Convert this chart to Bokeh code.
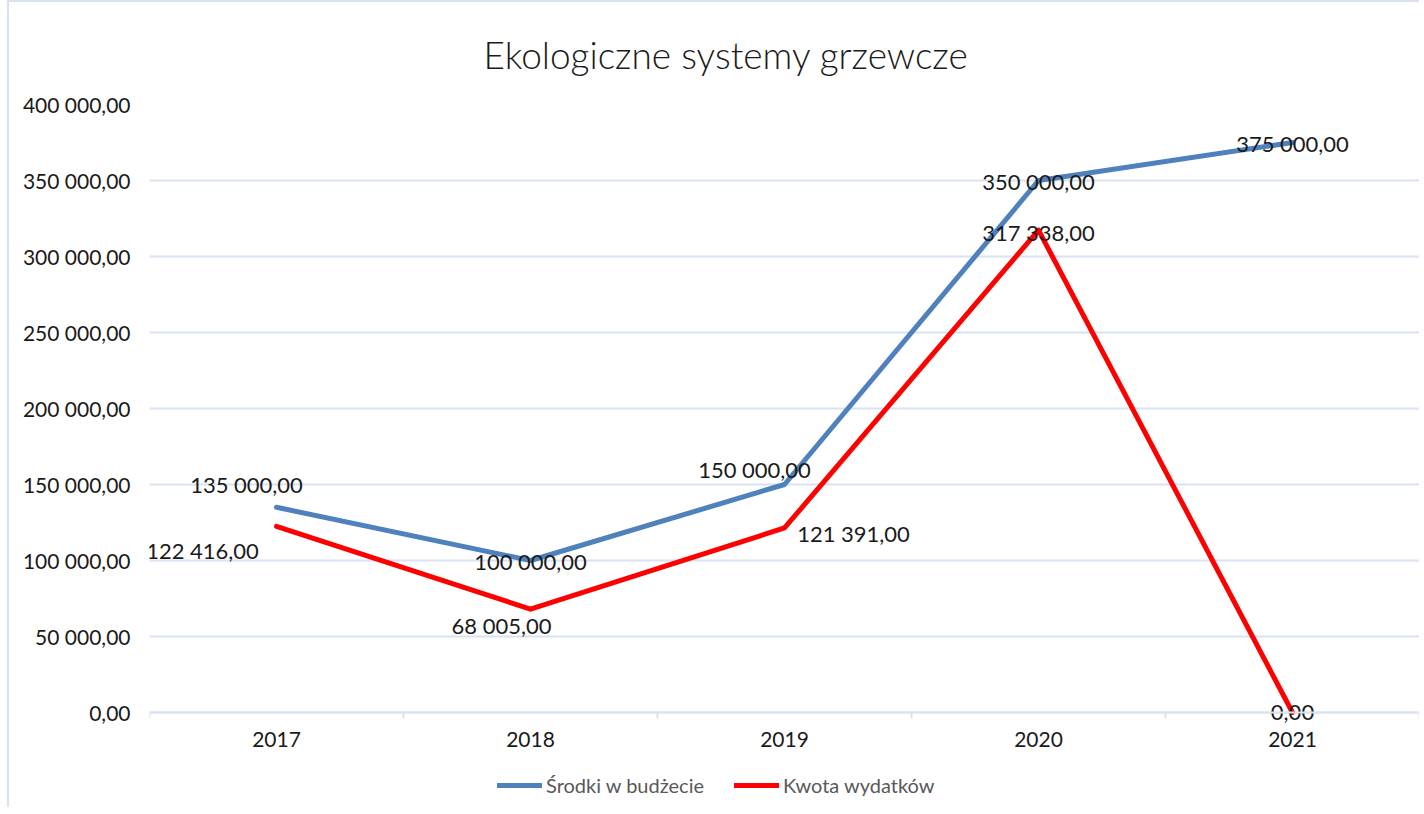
from bokeh.plotting import figure
from bokeh.models import FixedTicker, Legend, LegendItem, ColumnDataSource
from bokeh.core.properties import value
from bokeh.embed import file_html
from bokeh.resources import INLINE

# ---- data ----
years = ["2017", "2018", "2019", "2020", "2021"]
budget = [135000, 100000, 150000, 350000, 375000]   # Środki w budżecie
spent = [122416, 68005, 121391, 317338, 0]          # Kwota wydatków
y_ticks = [0, 50000, 100000, 150000, 200000, 250000, 300000, 350000, 400000]
series_names = ["Środki w budżecie", "Kwota wydatków"]

# ---- label placement (screen px, down = positive) ----
budget_dx = [-30, 0, -30, 0, 0]
budget_dy = [-23, 1, -15, 1, 1]
spent_dx = [-74, -29, 69, 0, 0]
spent_dy = [24, 16, 6, 2, 0]

FONT = "Lato"
GRID = "#D9E2F3"
BLUE = "#4F81BD"
RED = "#FF0000"
TXT = "#1a1a1a"

Y_MAX = y_ticks[-1]
FIG_W, FIG_H = 1412, 807
TOP, BOTTOM, LEFT, RIGHT = 102, 10, 140, 2
ZERO_PX = 608                      # px between 0 and Y_MAX
frame_h = FIG_H - TOP - BOTTOM
y_lo = -(frame_h - ZERO_PX) * Y_MAX / ZERO_PX   # room under the axis for labels/legend


def fmt(v):
    s = f"{v:,.2f}"
    return s.replace(",", " ").replace(".", ",")


xs = list(range(len(years)))

p = figure(
    width=FIG_W, height=FIG_H,
    x_range=(-0.5, len(years) - 0.5), y_range=(y_lo, Y_MAX),
    output_backend="svg", toolbar_location=None,
    min_border_left=LEFT, min_border_right=RIGHT, min_border_top=TOP, min_border_bottom=BOTTOM,
    title="Ekologiczne systemy grzewcze",
    styles={"margin-left": "7px", "margin-top": "0px",
            "border-left": "2px solid #D9E2F3", "border-top": "2px solid #D9E2F3"},
)
p.outline_line_color = None
p.background_fill_color = "white"
p.border_fill_color = "white"

p.title.align = "left"
p.title.offset = 334
p.title.text_font = "Lato Light"
p.title.text_font_style = "normal"
p.title.text_font_size = "37px"
p.title.text_color = TXT
p.title.standoff = 55

# grid
p.xgrid.grid_line_color = None
p.ygrid.grid_line_color = GRID
p.ygrid.grid_line_width = 2
p.ygrid.ticker = FixedTicker(ticks=y_ticks)

# y axis
p.yaxis.ticker = FixedTicker(ticks=y_ticks)
p.yaxis.major_label_overrides = {t: fmt(t) for t in y_ticks}
p.yaxis.axis_line_color = None
p.yaxis.major_tick_line_color = None
p.yaxis.minor_tick_line_color = None
p.yaxis.major_tick_out = 0
p.yaxis.major_tick_in = 0
p.yaxis.major_label_standoff = 19
p.yaxis.major_label_text_font = FONT
p.yaxis.major_label_text_font_size = "21px"
p.yaxis.major_label_text_color = TXT

# x axis line at y = 0 with tick marks at the category boundaries
bounds = [i - 0.5 for i in range(len(years) + 1)]
p.xaxis.fixed_location = 0
p.xaxis.ticker = FixedTicker(ticks=[], minor_ticks=bounds)
p.xaxis.axis_line_color = GRID
p.xaxis.axis_line_width = 2
p.xaxis.major_tick_line_color = None
p.xaxis.major_tick_out = 0
p.xaxis.major_tick_in = 0
p.xaxis.major_label_standoff = 0
p.xaxis.minor_tick_line_color = GRID
p.xaxis.minor_tick_line_width = 2
p.xaxis.minor_tick_out = 6
p.xaxis.minor_tick_in = 0

src = ColumnDataSource(dict(
    x=xs, zero=[0] * len(xs), year=years,
    budget=budget, spent=spent,
    blab=[fmt(v) for v in budget], slab=[fmt(v) for v in spent],
    bdx=budget_dx, bdy=budget_dy, sdx=spent_dx, sdy=spent_dy,
))

# category labels under the axis
p.text("x", "zero", text="year", y_offset=27, source=src,
       text_font=value(FONT), text_font_size="21px", text_color=TXT,
       text_align="center", text_baseline="middle")

r_b = p.line("x", "budget", source=src, line_color=BLUE, line_width=5,
             line_join="round", line_cap="round")
r_s = p.line("x", "spent", source=src, line_color=RED, line_width=5,
             line_join="round", line_cap="round")

for col, dx, dy, ycol in (("blab", "bdx", "bdy", "budget"), ("slab", "sdx", "sdy", "spent")):
    p.text("x", ycol, text=col, x_offset=dx, y_offset=dy, source=src,
           text_font=value(FONT), text_font_size="22px", text_color=TXT,
           text_align="center", text_baseline="middle")

legend = Legend(
    items=[LegendItem(label=series_names[0], renderers=[r_b]),
           LegendItem(label=series_names[1], renderers=[r_s])],
    orientation="horizontal", location=(348, 2),
    label_text_font=FONT, label_text_font_size="20px", label_text_color="#595959",
    glyph_width=45, glyph_height=20, spacing=30, label_standoff=4,
    border_line_color=None, background_fill_alpha=0,
    padding=0, margin=0,
)
p.add_layout(legend)

open("out.html", "w").write(file_html(p, INLINE))
